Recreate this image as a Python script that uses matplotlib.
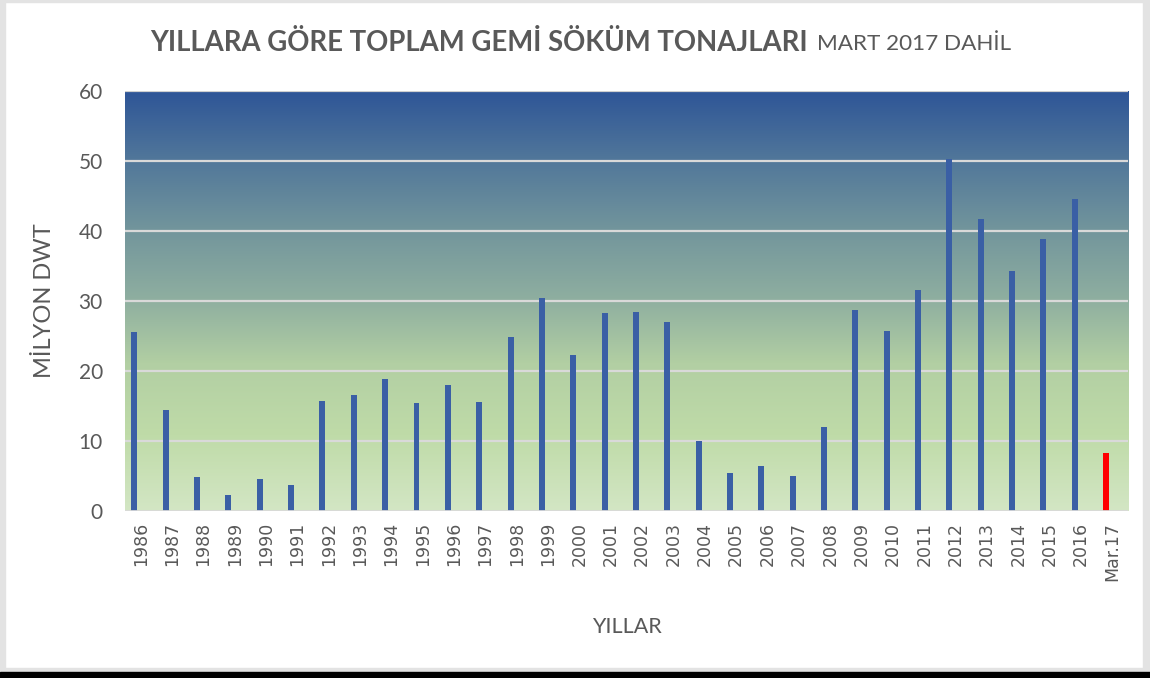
"""
Total ship recycling tonnage per year (1986 - March 2017), bar chart
drawn on a blue-to-green gradient background.
"""

import numpy as np
import matplotlib
import matplotlib.pyplot as plt
from matplotlib.colors import LinearSegmentedColormap
from matplotlib.patches import Rectangle

matplotlib.use("Agg")

# data (million DWT)
years = ["1986", "1987", "1988", "1989", "1990", "1991", "1992", "1993",
         "1994", "1995", "1996", "1997", "1998", "1999", "2000", "2001",
         "2002", "2003", "2004", "2005", "2006", "2007", "2008", "2009",
         "2010", "2011", "2012", "2013", "2014", "2015", "2016"]
tonnage = [25.6, 14.4, 4.9, 2.3, 4.6, 3.7, 15.7, 16.6,
           18.9, 15.4, 18.0, 15.6, 24.9, 30.4, 22.3, 28.3,
           28.4, 27.0, 10.0, 5.4, 6.4, 5.0, 12.0, 28.7,
           25.7, 31.6, 50.3, 41.7, 34.3, 38.9, 44.6]
partial_label = ["Mar.17"]
partial_tonnage = [8.3]

TEXT = "#595959"


def plot_chart():
    fig = plt.figure(figsize=(11.5, 6.78), dpi=100)
    ax = fig.add_axes([0.1087, 0.2463, 0.8722, 0.6195])

    labels = years + partial_label
    n = len(labels)
    ax.set_xlim(-0.5, n - 0.5)
    ax.set_ylim(0, 60)

    # gradient background
    cmap = LinearSegmentedColormap.from_list(
        "bg", [(0.0, "#d3e6c4"), (0.18, "#bfdba8"), (0.35, "#b2cfa3"),
               (0.5, "#8fafa0"), (0.67, "#72959c"), (0.83, "#52789a"),
               (1.0, "#2e5597")])
    grad = np.linspace(0, 1, 256).reshape(-1, 1)
    ax.imshow(grad, cmap=cmap, aspect="auto", origin="lower",
              extent=(-0.5, n - 0.5, 0, 60), zorder=0)

    for val in range(10, 60, 10):
        ax.axhline(val, color="#d9d9d9", lw=1.6, zorder=1)
    ax.axhline(60, color="#d0d0d0", lw=1.6, zorder=1)
    ax.axhline(0, color="#d9d9d9", lw=2, zorder=3)

    x = np.arange(len(years))
    ax.bar(x - 0.2, tonnage, width=0.19, color="#3a5fa5", zorder=2)
    ax.bar(np.arange(len(years), n) - 0.2, partial_tonnage, width=0.19,
           color="#ff0000", zorder=2)

    for side in ["left", "right", "top", "bottom"]:
        ax.spines[side].set_visible(False)

    ax.set_xticks(np.arange(n))
    ax.set_xticklabels(labels, rotation=90, fontsize=12.5, color=TEXT,
                       family="DejaVu Sans")
    ax.set_yticks(range(0, 61, 10))
    ax.tick_params(axis="x", length=0, pad=8)
    ax.tick_params(axis="y", length=0, pad=16)
    for lab in ax.get_yticklabels():
        lab.set_fontsize(15)
        lab.set_color(TEXT)
        lab.set_family("Lato")

    ax.set_ylabel("MİLYON DWT", fontsize=17, color=TEXT, family="Lato",
                  labelpad=17)
    ax.set_xlabel("YILLAR", fontsize=15.5, color=TEXT, family="Lato",
                  labelpad=26)

    # title: bold part plus a lighter subtitle on the same line
    t1 = fig.text(150 / 1150, 1 - 43 / 678, "YILLARA GÖRE TOPLAM GEMİ SÖKÜM TONAJLARI",
                  fontsize=19.8, fontweight="bold", color=TEXT, family="Lato",
                  va="center", ha="left")
    fig.canvas.draw()
    bb = t1.get_window_extent().transformed(fig.transFigure.inverted())
    fig.text(bb.x1 + 9 / 1150, 1 - 44 / 678, "MART 2017 DAHİL", fontsize=16.2,
             color=TEXT, family="Lato", va="center", ha="left")

    # frame around the image
    fig.patches.append(Rectangle((0, 0), 5 / 1150, 1, transform=fig.transFigure,
                                 color="#e3e3e3", zorder=0))
    fig.patches.append(Rectangle((1143 / 1150, 0), 7 / 1150, 1,
                                 transform=fig.transFigure, color="#e3e3e3", zorder=0))
    fig.patches.append(Rectangle((0, 1 - 2 / 678), 1, 2 / 678, transform=fig.transFigure,
                                 color="#e3e3e3", zorder=0))
    fig.patches.append(Rectangle((0, 6 / 678), 1, 4 / 678, transform=fig.transFigure,
                                 color="#e3e3e3", zorder=0))
    fig.patches.append(Rectangle((0, 0), 1, 6 / 678, transform=fig.transFigure,
                                 color="#000000", zorder=0))

    fig.savefig("out.png", dpi=100)


if __name__ == "__main__":
    plot_chart()
